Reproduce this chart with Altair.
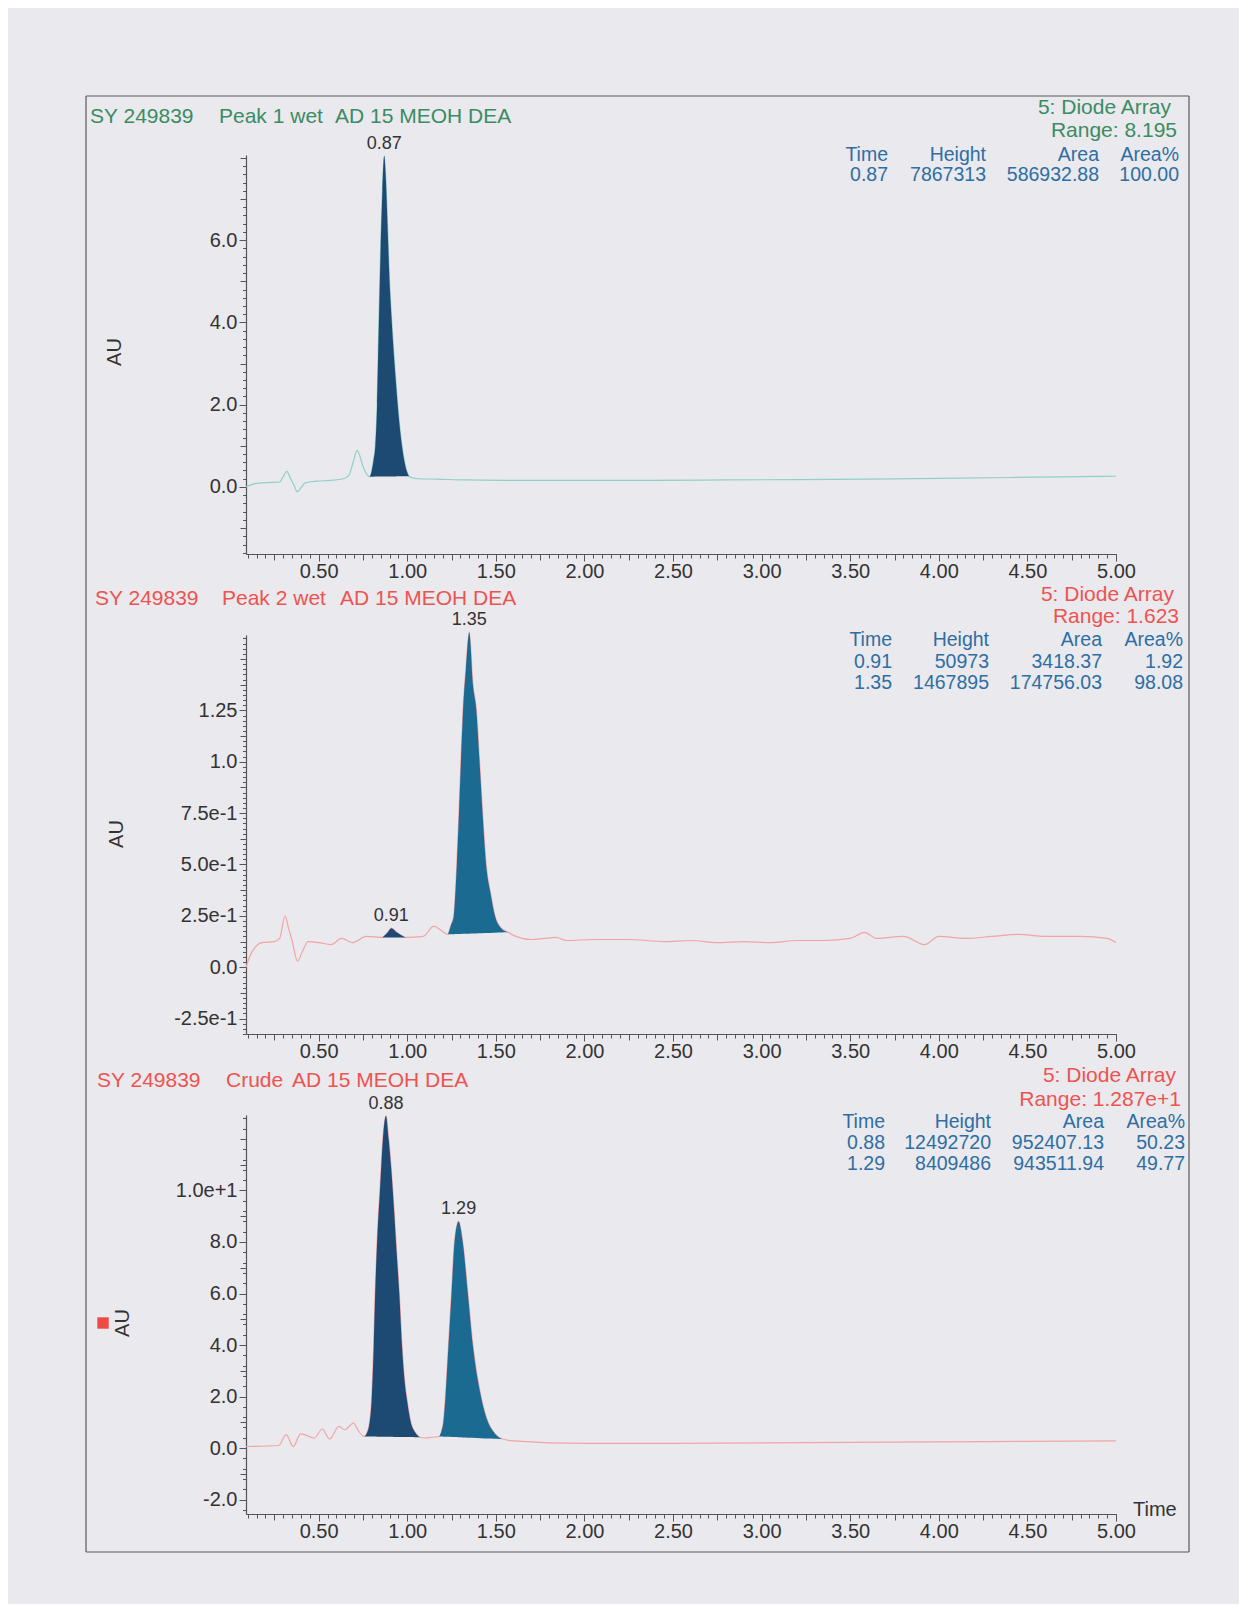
import altair as alt
import pandas as pd

FONT = "Liberation Sans"
BG = "#e9e9ee"
GREEN = "#3b8c62"
RED = "#ee5350"
BLUE = "#2f6ea3"
NAVY = "#1c4a73"
TEAL = "#1a6a92"
TXT = "#333333"
AXC = "#555555"

W, H, GAP = 870, 399, 81
XDOM = [0.09, 5.0]

# ---------------- data ----------------
# Panel 1: Peak 1 wet
t1 = [0.09, 0.13, 0.18, 0.24, 0.28, 0.30, 0.32, 0.34, 0.36, 0.38, 0.40, 0.425, 0.49, 0.566,
      0.64, 0.67, 0.695, 0.717, 0.735, 0.75, 0.77, 0.79, 0.80, 0.81, 0.82, 0.83, 0.84, 0.85,
      0.86, 0.87, 0.88, 0.89, 0.90, 0.91, 0.92, 0.935, 0.95, 0.97, 0.985, 1.00, 1.01, 1.03,
      1.06, 1.17, 1.32, 1.60, 2.00, 2.40, 2.80, 3.20, 3.60, 4.00, 4.40, 4.80, 5.00]
a1 = [0.00, 0.07, 0.10, 0.11, 0.12, 0.25, 0.38, 0.22, 0.05, -0.12, -0.02, 0.10, 0.14, 0.16,
      0.20, 0.28, 0.60, 0.89, 0.72, 0.50, 0.32, 0.25, 0.40, 0.65, 1.00, 2.00, 4.00, 5.80,
      7.20, 8.05, 7.40, 6.20, 5.00, 4.20, 3.50, 2.60, 1.80, 1.00, 0.60, 0.35, 0.26, 0.22,
      0.20, 0.19, 0.17, 0.16, 0.16, 0.16, 0.17, 0.18, 0.19, 0.21, 0.23, 0.25, 0.26]
win1_start = [0.79]
win1_end = [1.01]
win1_base0 = [0.25]
win1_base1 = [0.26]
win1_color = [NAVY]
pk1_time = [0.87]
pk1_label = ["0.87"]
tbl1_time = ["0.87"]
tbl1_height = ["7867313"]
tbl1_area = ["586932.88"]
tbl1_pct = ["100.00"]

# Panel 2: Peak 2 wet
t2 = [0.09, 0.11, 0.14, 0.18, 0.25, 0.28, 0.31, 0.33, 0.35, 0.38, 0.41, 0.44, 0.50, 0.57,
      0.63, 0.69, 0.77, 0.86, 0.89, 0.91, 0.94, 0.99, 1.09, 1.15, 1.19, 1.23, 1.245, 1.263,
      1.28, 1.292, 1.303, 1.315, 1.331, 1.35, 1.37, 1.39, 1.408, 1.425, 1.445, 1.47, 1.495,
      1.53, 1.57, 1.60, 1.70, 1.77, 1.84, 1.90, 2.05, 2.25, 2.45, 2.60, 2.75, 2.90, 3.05,
      3.20, 3.35, 3.50, 3.58, 3.65, 3.80, 3.92, 4.00, 4.15, 4.30, 4.45, 4.60, 4.80, 4.95, 5.00]
a2 = [0.00, 0.05, 0.095, 0.12, 0.125, 0.14, 0.25, 0.19, 0.13, 0.03, 0.08, 0.125, 0.12, 0.11,
      0.14, 0.12, 0.15, 0.145, 0.17, 0.19, 0.17, 0.145, 0.15, 0.20, 0.18, 0.16, 0.20, 0.25,
      0.50, 0.75, 1.00, 1.25, 1.45, 1.63, 1.38, 1.25, 1.00, 0.75, 0.50, 0.36, 0.25,
      0.19, 0.17, 0.155, 0.135, 0.14, 0.145, 0.13, 0.135, 0.135, 0.125, 0.13, 0.12, 0.125, 0.12,
      0.13, 0.13, 0.14, 0.17, 0.14, 0.15, 0.11, 0.15, 0.14, 0.15, 0.16, 0.15, 0.15, 0.14, 0.12]
win2_start = [0.86, 1.23]
win2_end = [0.99, 1.57]
win2_base0 = [0.145, 0.16]
win2_base1 = [0.145, 0.17]
win2_color = [NAVY, TEAL]
pk2_time = [0.91, 1.35]
pk2_label = ["0.91", "1.35"]
tbl2_time = ["0.91", "1.35"]
tbl2_height = ["50973", "1467895"]
tbl2_area = ["3418.37", "174756.03"]
tbl2_pct = ["1.92", "98.08"]

# Panel 3: Crude
t3 = [0.09, 0.275, 0.316, 0.357, 0.398, 0.419, 0.476, 0.52, 0.562, 0.614, 0.648, 0.696, 0.726,
      0.757, 0.77, 0.788, 0.80, 0.811, 0.819, 0.83, 0.846, 0.865, 0.88, 0.895, 0.91, 0.925,
      0.94, 0.955, 0.97, 0.985, 1.00, 1.02, 1.045, 1.07, 1.10, 1.15, 1.181, 1.195, 1.204,
      1.216, 1.233, 1.25, 1.267, 1.29, 1.313, 1.342, 1.37, 1.416, 1.456, 1.49, 1.52, 1.536,
      1.60, 2.00, 2.50, 3.00, 3.50, 4.00, 4.50, 5.00]
a3 = [0.06, 0.10, 0.52, 0.06, 0.55, 0.52, 0.39, 0.74, 0.35, 0.84, 0.71, 0.97, 0.65,
      0.45, 0.55, 1.00, 2.00, 4.00, 6.00, 8.00, 10.0, 12.2, 12.9, 12.0, 10.8, 9.3,
      7.6, 6.0, 4.0, 2.6, 1.8, 1.0, 0.60, 0.42, 0.39, 0.43, 0.45, 0.70, 1.00,
      2.0, 4.0, 6.0, 8.0, 8.8, 8.0, 6.0, 4.0, 2.0, 1.0, 0.60, 0.40, 0.35,
      0.28, 0.18, 0.18, 0.20, 0.22, 0.24, 0.26, 0.28]
win3_start = [0.757, 1.181]
win3_end = [1.07, 1.536]
win3_base0 = [0.45, 0.45]
win3_base1 = [0.42, 0.35]
win3_color = [NAVY, TEAL]
pk3_time = [0.88, 1.29]
pk3_label = ["0.88", "1.29"]
tbl3_time = ["0.88", "1.29"]
tbl3_height = ["12492720", "8409486"]
tbl3_area = ["952407.13", "943511.94"]
tbl3_pct = ["50.23", "49.77"]

tbl_header = ["Time", "Height", "Area", "Area%"]

# axes
X_MAJOR = [0.5, 1.0, 1.5, 2.0, 2.5, 3.0, 3.5, 4.0, 4.5, 5.0]
X_MED = [0.25, 0.75, 1.25, 1.75, 2.25, 2.75, 3.25, 3.75, 4.25, 4.75]
X_MINOR = [round(0.1 + 0.05 * i, 2) for i in range(99)]

y1_dom = [-1.63, 8.07]
y1_vals = [0.0, 2.0, 4.0, 6.0]
y1_text = ["0.0", "2.0", "4.0", "6.0"]
y1_med = [-1.0, 1.0, 3.0, 5.0, 7.0, 8.0]
y1_minor = [round(-1.6 + 0.2 * i, 2) for i in range(49)]

y2_dom = [-0.325, 1.617]
y2_vals = [-0.25, 0.0, 0.25, 0.5, 0.75, 1.0, 1.25]
y2_text = ["-2.5e-1", "0.0", "2.5e-1", "5.0e-1", "7.5e-1", "1.0", "1.25"]
y2_med = [round(-0.125 + 0.25 * i, 3) for i in range(8)] + [1.5]
y2_minor = [round(-0.325 + 0.025 * i, 3) for i in range(78)]

y3_dom = [-2.56, 12.93]
y3_vals = [-2.0, 0.0, 2.0, 4.0, 6.0, 8.0, 10.0]
y3_text = ["-2.0", "0.0", "2.0", "4.0", "6.0", "8.0", "1.0e+1"]
y3_med = [-1.0, 1.0, 3.0, 5.0, 7.0, 9.0, 11.0, 12.0]
y3_minor = [round(-2.4 + 0.4 * i, 2) for i in range(39)]


def label_expr(vals, texts):
    parts = " : ".join(f"abs(datum.value - ({v})) < 1e-6 ? '{s}'" for v, s in zip(vals, texts))
    return parts + " : ''"


def note(txt, x, y, size, color, align="left", angle=None):
    kw = dict(text=txt, align=align, baseline="middle", fontSize=size, color=color, font=FONT)
    if angle is not None:
        kw["angle"] = angle
    return alt.Chart(alt.Data(values=[{}])).mark_text(**kw).encode(
        x=alt.value(x), y=alt.value(y))


def frame(x1, x2, y1, y2):
    return alt.Chart(alt.Data(values=[{}])).mark_rule(color="#5a5a5a", strokeWidth=1.2).encode(
        x=alt.value(x1), x2=alt.value(x2), y=alt.value(y1), y2=alt.value(y2))


def panel(t, a, ydom, yvals, ytext, ymed, yminor, ws, we, wb0, wb1, wc, pkt, pkl,
          line_color, hdr, hdr_color, hdr_x, hdr_y, dio, rng, tbl, tbl_x, tbl_y, tbl_gap,
          au_x, au_y, frame_top, frame_bottom, extra=None):
    df = pd.DataFrame({"t": t, "a": a})
    xs = alt.Scale(domain=XDOM, nice=False, zero=False)
    ys = alt.Scale(domain=ydom, nice=False, zero=False)

    layers = []
    layers.append(alt.Chart(df).mark_line(color=line_color, strokeWidth=1.2,
                                          interpolate="monotone").encode(
        x=alt.X("t:Q", scale=xs, axis=alt.Axis(orient="bottom", values=X_MAJOR, format=".2f",
                                                tickSize=7, labelPadding=0, title=None,
                                                labelFlush=False, labelOverlap=False)),
        y=alt.Y("a:Q", scale=ys, axis=alt.Axis(orient="left", values=yvals,
                                                labelExpr=label_expr(yvals, ytext),
                                                tickSize=7, labelPadding=2, title=None,
                                                labelFlush=False, labelOverlap=False))))
    layers.append(alt.Chart(df).mark_line(opacity=0).encode(
        x=alt.X("t:Q", scale=xs, axis=alt.Axis(orient="bottom", values=X_MED, tickSize=6,
                                                labels=False, domain=False, title=None)),
        y=alt.Y("a:Q", scale=ys, axis=alt.Axis(orient="left", values=ymed, tickSize=6,
                                                labels=False, domain=False, title=None))))
    layers.append(alt.Chart(df).mark_line(opacity=0).encode(
        x=alt.X("t:Q", scale=xs, axis=alt.Axis(orient="bottom", values=X_MINOR, tickSize=4,
                                                labels=False, domain=False, title=None)),
        y=alt.Y("a:Q", scale=ys, axis=alt.Axis(orient="left", values=yminor, tickSize=3.5,
                                                labels=False, domain=False, title=None))))
    for s, e, b0, b1, c in zip(ws, we, wb0, wb1, wc):
        sub = df[(df.t >= s - 1e-9) & (df.t <= e + 1e-9)].copy()
        sub["base"] = b0 + (b1 - b0) * (sub.t - s) / (e - s)
        layers.append(alt.Chart(sub).mark_area(color=c, opacity=1, interpolate="monotone").encode(
            x=alt.X("t:Q", scale=xs, axis=None),
            y=alt.Y("a:Q", scale=ys, axis=None),
            y2="base:Q"))
    pk = pd.DataFrame({"t": pkt, "a": [a[t.index(v)] for v in pkt], "lab": pkl})
    layers.append(alt.Chart(pk).mark_text(font=FONT, fontSize=18, color=TXT, baseline="bottom",
                                          dy=-3).encode(
        x=alt.X("t:Q", scale=xs, axis=None), y=alt.Y("a:Q", scale=ys, axis=None), text="lab:N"))

    # header texts
    for txt, x in zip(hdr, hdr_x):
        layers.append(note(txt, x, hdr_y, 21, hdr_color))
    layers.append(note(dio[0], dio[1], dio[2], 21, hdr_color, align="right"))
    layers.append(note(rng[0], rng[1], rng[2], 21, hdr_color, align="right"))
    # peak table
    for ci, head in enumerate(tbl_header):
        layers.append(note(head, tbl_x[ci], tbl_y, 19.5, BLUE, align="right"))
        for ri, val in enumerate(tbl[ci]):
            layers.append(note(val, tbl_x[ci], tbl_y + (ri + 1) * tbl_gap, 19.5, BLUE, align="right"))
    layers.append(note("AU", au_x, au_y, 20, TXT, align="center", angle=270))
    # frame
    layers.append(frame(-160, -160, frame_top, frame_bottom))
    layers.append(frame(943, 943, frame_top, frame_bottom))
    if extra:
        layers.extend(extra)
    return alt.layer(*layers).resolve_axis(x="independent", y="independent").properties(
        width=W, height=H)


p1 = panel(t1, a1, y1_dom, y1_vals, y1_text, y1_med, y1_minor,
           win1_start, win1_end, win1_base0, win1_base1, win1_color, pk1_time, pk1_label,
           "#92cfc6", ["SY 249839", "Peak 1 wet", "AD 15 MEOH DEA"], GREEN, [-156, -27, 89], -38,
           ("5: Diode Array", 925, -47), ("Range: 8.195", 931, -24),
           [tbl1_time, tbl1_height, tbl1_area, tbl1_pct], [642, 740, 853, 933], 0, 20,
           -131, 197, -59, H + 41,
           extra=[frame(-160, 943, -59, -59)])

p2 = panel(t2, a2, y2_dom, y2_vals, y2_text, y2_med, y2_minor,
           win2_start, win2_end, win2_base0, win2_base1, win2_color, pk2_time, pk2_label,
           "#f2a5a5", ["SY 249839", "Peak 2 wet", "AD 15 MEOH DEA"], RED, [-151, -24, 94], -36,
           ("5: Diode Array", 928, -40), ("Range: 1.623", 933, -18),
           [tbl2_time, tbl2_height, tbl2_area, tbl2_pct], [646, 743, 856, 937], 5, 21.5,
           -129, 199, -40, H + 41)

p3 = panel(t3, a3, y3_dom, y3_vals, y3_text, y3_med, y3_minor,
           win3_start, win3_end, win3_base0, win3_base1, win3_color, pk3_time, pk3_label,
           "#f2a5a5", ["SY 249839", "Crude", "AD 15 MEOH DEA"], RED, [-149, -20, 46], -34,
           ("5: Diode Array", 930, -39), ("Range: 1.287e+1", 935, -15),
           [tbl3_time, tbl3_height, tbl3_area, tbl3_pct], [639, 745, 858, 939], 7, 21,
           -123, 208, -40, H + 38,
           extra=[frame(-160, 943, H + 38, H + 38),
                  note("Time", 887, H - 4, 20, TXT),
                  alt.Chart(alt.Data(values=[{}])).mark_square(color="#f04a45", size=130, opacity=1).encode(
                      x=alt.value(-143), y=alt.value(208))])

chart = alt.VConcatChart(vconcat=[p1, p2, p3], spacing=GAP, bounds="flush").properties(
    background=BG,
    padding={"left": 76, "top": 86, "right": 48, "bottom": 50},
).configure_view(stroke="transparent").configure_axis(
    labelFont=FONT, labelFontSize=20, labelColor=TXT, domainColor=AXC, tickColor=AXC,
    grid=False, domainWidth=1.2, tickWidth=1)

chart.save("out.html", embed_options={"renderer": "svg", "actions": False})
